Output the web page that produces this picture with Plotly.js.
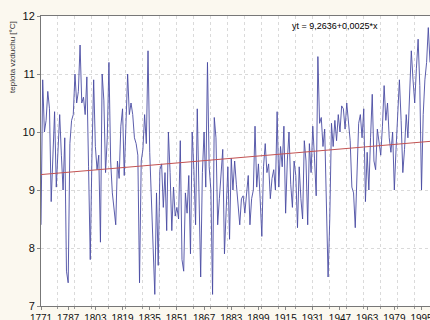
<!DOCTYPE html>
<html>
<head>
<meta charset="utf-8">
<script src="https://cdn.plot.ly/plotly-3.0.1.min.js"></script>
<style>html,body{margin:0;padding:0;background:#fbf8ef;}#chart{width:430px;height:320px;}</style>
</head>
<body>
<div id="chart"></div>
<script>
// Annual mean air temperature, first year 1771
const startYear = 1771;
const temps = [
  8.4,10.9,10.0,10.2,10.7,10.4,8.8,9.6,10.35,9.05,
  9.8,10.3,9.6,9.0,9.9,7.6,7.4,9.8,10.2,10.3,
  11.0,10.5,10.7,11.5,10.5,10.6,10.3,10.95,9.4,7.8,
  9.6,10.9,9.75,9.35,9.6,8.1,11.0,10.55,9.3,9.9,
  11.2,9.5,8.95,8.6,8.4,9.5,9.2,10.1,10.4,9.25,
  10.2,11.0,10.3,10.5,10.3,9.9,9.8,9.6,7.4,9.5,
  9.7,10.3,9.8,11.4,9.65,8.9,7.9,7.2,8.95,7.7,
  9.35,9.45,8.7,9.3,8.3,10.0,9.3,8.3,9.05,8.55,
  8.7,8.5,9.85,7.8,7.6,8.95,8.6,9.25,7.9,10.0,
  9.35,8.4,10.4,9.1,7.5,9.3,10.0,9.05,11.2,9.4,
  9.0,7.2,10.25,9.9,8.4,8.85,9.3,9.7,7.9,8.85,
  9.4,8.15,9.55,9.0,9.5,9.1,8.7,8.4,8.85,8.9,
  8.6,9.0,9.25,8.4,8.85,9.0,10.1,9.05,9.45,8.85,
  8.2,9.4,9.8,9.3,9.45,8.85,9.2,9.35,9.0,10.35,
  9.05,9.75,9.4,10.1,8.6,9.5,10.0,9.1,8.7,9.5,
  9.25,8.35,9.4,8.85,8.5,9.85,9.5,8.4,9.8,9.3,
  10.1,9.55,8.9,11.3,10.15,10.25,9.75,10.05,8.85,7.5,
  8.5,10.15,9.75,10.2,9.85,10.3,10.0,10.45,10.4,10.05,
  10.5,10.15,9.85,9.05,8.95,8.35,9.35,10.15,10.3,9.9,
  10.4,8.8,9.65,9.0,9.9,10.65,9.5,9.35,10.05,9.85,
  9.6,10.1,10.8,10.2,10.5,9.9,9.65,10.0,9.0,9.7,
  10.4,10.9,10.2,9.3,9.7,10.3,9.9,10.6,11.4,10.9,
  10.5,11.1,11.6,10.8,9.0,10.3,10.9,11.2,11.8,11.2
];
const years = temps.map((_, i) => startYear + i);

// Linear trend yt = a + b*x (x = case number)
const trendA = 9.2636;
const trendB = 0.0025;
const trendLabel = 'yt = 9,2636+0,0025*x';
const trendY = years.map((_, i) => trendA + trendB * (i + 1));

const xTickVals = [1771,1787,1803,1819,1835,1851,1867,1883,1899,1915,1931,1947,1963,1979,1995];
const yTitle = 'teplota vzduchu [°C]';

const traces = [
  {x: years, y: temps, type: 'scatter', mode: 'lines',
   line: {color: '#4a4ca3', width: 0.9}, hoverinfo: 'skip'},
  {x: years, y: trendY, type: 'scatter', mode: 'lines',
   line: {color: '#c25252', width: 1}, hoverinfo: 'skip'}
];

const layout = {
  width: 430, height: 320,
  margin: {l: 41, r: 0, t: 16, b: 14, pad: 0},
  paper_bgcolor: '#fbf8ef',
  plot_bgcolor: '#ffffff',
  showlegend: false,
  font: {family: 'Liberation Sans, Arial, sans-serif', color: '#000', size: 11},
  xaxis: {
    range: [1771, 2000], tickmode: 'array', tickvals: xTickVals,
    ticks: 'outside', ticklen: 3, tickcolor: '#888',
    showgrid: false, zeroline: false, ticklabeloverflow: 'allow',
    showline: true, linecolor: '#777', linewidth: 1, mirror: true,
    tickfont: {size: 10, color: '#111'},
    minor: {tick0: 1771, dtick: 10, showgrid: true, gridcolor: '#dadada',
            griddash: 'dot', gridwidth: 1, ticks: 'outside', ticklen: 2, tickcolor: '#999'}
  },
  yaxis: {
    range: [7, 12], dtick: 1, tick0: 7,
    ticks: 'outside', ticklen: 3, tickcolor: '#888',
    showgrid: true, gridcolor: '#dadada', griddash: 'dot', gridwidth: 1,
    zeroline: false, showline: true, linecolor: '#777', linewidth: 1, mirror: true,
    tickfont: {size: 11, color: '#111'}
  },
  annotations: [
    {xref: 'paper', yref: 'paper', x: 0.64, y: 0.965, xanchor: 'left', yanchor: 'middle',
     text: trendLabel, showarrow: false, font: {size: 9, color: '#000'}},
    {xref: 'paper', yref: 'paper', x: -0.072, y: 0.99, xanchor: 'center', yanchor: 'top',
     textangle: -90, text: yTitle, showarrow: false, font: {size: 8, color: '#333'}}
  ]
};

Plotly.newPlot('chart', traces, layout, {staticPlot: true, displayModeBar: false});
</script>
</body>
</html>
